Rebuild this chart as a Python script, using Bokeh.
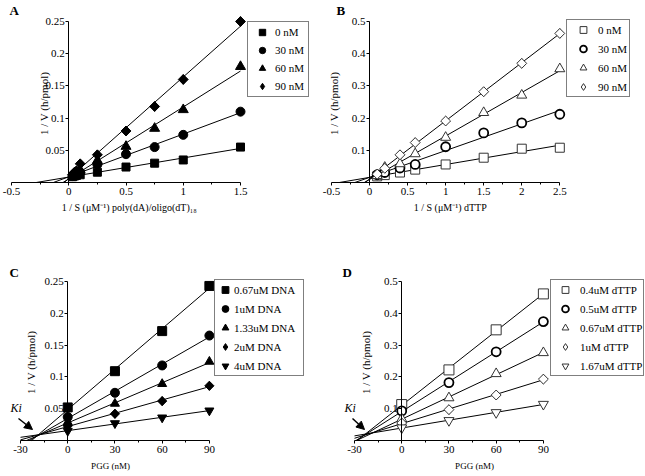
import numpy as np
from bokeh.plotting import figure
from bokeh.layouts import row, column
from bokeh.models import (Range1d, FixedTicker, CustomJSTickFormatter, Legend,
                          LegendItem, Label, Arrow, NormalHead)
from bokeh.embed import file_html
from bokeh.resources import INLINE

FONT = "Liberation Serif"

# ---------------- data ----------------
# Panel A : 1/S poly(dA)/oligo(dT)18
a_x = [0.033, 0.05, 0.067, 0.1, 0.25, 0.5, 0.75, 1.0, 1.5]
a_labels = ["0 nM", "30 nM", "60 nM", "90 nM"]
a_0 = [0.009, 0.010, 0.011, 0.012, 0.016, 0.024, 0.030, 0.035, 0.055]
a_30 = [0.010, 0.012, 0.013, 0.016, 0.028, 0.044, 0.055, 0.074, 0.110]
a_60 = [0.011, 0.013, 0.015, 0.019, 0.034, 0.056, 0.084, 0.113, 0.180]
a_90 = [0.012, 0.016, 0.018, 0.029, 0.043, 0.080, 0.118, 0.160, 0.250]
a_xticks = [-0.5, 0, 0.5, 1, 1.5]
a_yticks = [0.05, 0.1, 0.15, 0.2, 0.25]

# Panel B : 1/S dTTP
b_x = [0.1, 0.2, 0.4, 0.6, 1.0, 1.5, 2.0, 2.5]
b_labels = ["0 nM", "30 nM", "60 nM", "90 nM"]
b_0 = [0.019, 0.023, 0.031, 0.040, 0.056, 0.077, 0.105, 0.108]
b_30 = [0.024, 0.031, 0.045, 0.056, 0.111, 0.154, 0.185, 0.212]
b_60 = [0.021, 0.047, 0.058, 0.089, 0.140, 0.217, 0.271, 0.353]
b_90 = [0.026, 0.044, 0.086, 0.124, 0.191, 0.282, 0.370, 0.463]
b_xticks = [-0.5, 0, 0.5, 1, 1.5, 2, 2.5]
b_yticks = [0.1, 0.2, 0.3, 0.4, 0.5]

# Panel C : PGG (nM), DNA series
c_x = [0, 30, 60, 90]
c_labels = ["0.67uM DNA", "1uM DNA", "1.33uM DNA", "2uM DNA", "4uM DNA"]
c_067 = [0.052, 0.109, 0.172, 0.243]
c_1 = [0.037, 0.075, 0.118, 0.165]
c_133 = [0.029, 0.058, 0.089, 0.124]
c_2 = [0.023, 0.042, 0.062, 0.086]
c_4 = [0.015, 0.027, 0.036, 0.047]
c_xticks = [-30, 0, 30, 60, 90]
c_yticks = [0.05, 0.1, 0.15, 0.2, 0.25]

# Panel D : PGG (nM), dTTP series
d_x = [0, 30, 60, 90]
d_labels = ["0.4uM dTTP", "0.5uM dTTP", "0.67uM dTTP", "1uM dTTP", "1.67uM dTTP"]
d_04 = [0.113, 0.222, 0.348, 0.461]
d_05 = [0.093, 0.182, 0.279, 0.374]
d_067 = [0.068, 0.134, 0.210, 0.276]
d_1 = [0.055, 0.097, 0.143, 0.193]
d_167 = [0.040, 0.063, 0.088, 0.114]
d_xticks = [-30, 0, 30, 60, 90]
d_yticks = [0.1, 0.2, 0.3, 0.4, 0.5]

FMT = CustomJSTickFormatter(code="return tick.toString();")


class Panel:
    """Frame covers the whole figure; axes sit at x=0 / y=0 (fixed locations)."""

    def __init__(self, fig_w, fig_h, ax_px, ay_px, sx, sy, xticks, yticks, ylab_standoff):
        self.ax_px, self.ay_px, self.sx, self.sy = ax_px, ay_px, sx, sy
        self.xmin = xticks[0]
        x0 = xticks[0] - ax_px / sx
        p = figure(width=fig_w, height=fig_h, output_backend="svg", toolbar_location=None,
                   x_range=Range1d(x0, x0 + fig_w / sx),
                   y_range=Range1d(-(fig_h - ay_px) / sy, ay_px / sy),
                   min_border_left=0, min_border_right=0, min_border_top=0,
                   min_border_bottom=0)
        p.xgrid.visible = False
        p.ygrid.visible = False
        p.outline_line_color = None
        p.background_fill_color = "white"
        p.border_fill_color = "white"
        step = xticks[1] - xticks[0]
        xminor = [t + step / 2 for t in xticks[:-1]]
        p.xaxis.ticker = FixedTicker(ticks=xticks, minor_ticks=xminor)
        p.yaxis.ticker = FixedTicker(ticks=yticks, minor_ticks=[])
        p.xaxis.bounds = (xticks[0], xticks[-1])
        p.yaxis.bounds = (0, yticks[-1])
        p.yaxis.fixed_location = 0
        p.xaxis.fixed_location = 0
        p.yaxis.axis_label = "1 / V  (h/pmol)"
        for ax in p.xaxis + p.yaxis:
            ax.formatter = FMT
            ax.axis_line_color = "black"
            ax.major_tick_line_color = "black"
            ax.minor_tick_line_color = "black"
            ax.major_tick_out = 3
            ax.major_tick_in = 0
            ax.minor_tick_out = 2
            ax.minor_tick_in = 0
            ax.major_label_text_font = FONT
            ax.major_label_text_font_size = "11px"
            ax.major_label_text_color = "black"
            ax.axis_label_text_font = FONT
            ax.axis_label_text_font_size = "11px"
            ax.axis_label_text_font_style = "normal"
            ax.axis_label_text_color = "black"
            ax.major_label_standoff = 2
        for ax in p.yaxis:
            ax.major_label_standoff = 1
            ax.axis_label_standoff = ylab_standoff
        self.p = p

    # pixel (relative to figure top-left) -> data
    def dx(self, px):
        return self.xmin + (px - self.ax_px) / self.sx

    def dy(self, py):
        return (self.ay_px - py) / self.sy

    def xlabel(self, text, cpx, cpy, size):
        self.p.add_layout(Label(x=self.dx(cpx), y=self.dy(cpy), text=text, text_font=FONT,
                                text_font_size=size, text_align="center",
                                text_baseline="middle", text_color="black"))

    def series(self, xs, ys, marker, size, fill, line, lw=1.0, diamond=False):
        p = self.p
        m, b = np.polyfit(xs, ys, 1)
        x_start = max(-b / m, self.xmin)
        x_end = max(xs)
        p.line([x_start, x_end], [m * x_start + b, m * x_end + b],
               line_color="black", line_width=1)
        if diamond:
            # narrow diamond underneath (used for the legend key), square-diamond on top
            r = p.scatter(xs, ys, marker="diamond", size=size * 1.35, fill_color=fill,
                          line_color=line, line_width=lw)
            p.scatter(xs, ys, marker="square", size=size, fill_color=fill, line_color=line,
                      line_width=lw, angle=np.pi / 4)
            return r
        return p.scatter(xs, ys, marker=marker, size=size, fill_color=fill, line_color=line,
                         line_width=lw)

    def legend(self, renderers, labels, loc, padding, gw, gh, spacing, standoff, lw):
        items = [LegendItem(label=l, renderers=[r]) for l, r in zip(labels, renderers)]
        leg = Legend(items=items, location=loc, padding=padding, glyph_width=gw,
                     glyph_height=gh, label_height=gh, spacing=spacing,
                     label_standoff=standoff, label_width=lw, margin=0,
                     border_line_color="black", border_line_width=1,
                     background_fill_color="white", background_fill_alpha=1.0,
                     label_text_font=FONT, label_text_font_size="11px",
                     label_text_color="black")
        self.p.add_layout(leg)

    def letter(self, px, py, t):
        self.p.add_layout(Label(x=self.dx(px), y=self.dy(py), text=t, text_font=FONT,
                                text_font_style="bold", text_font_size="13px",
                                text_align="left", text_baseline="top", text_color="black"))

    def ki(self, tpx, tpy, spx, spy, epx, epy):
        self.p.add_layout(Label(x=self.dx(tpx), y=self.dy(tpy), text="Ki", text_font=FONT,
                                text_font_style="italic", text_font_size="12px",
                                text_align="left", text_baseline="middle",
                                text_color="black"))
        self.p.add_layout(Arrow(end=NormalHead(size=8, fill_color="black", line_color="black"),
                                x_start=self.dx(spx), y_start=self.dy(spy),
                                x_end=self.dx(epx), y_end=self.dy(epy),
                                line_color="black", line_width=1.5))


# legend location tuples are (left, bottom) in px from the frame's bottom-left (= figure)
# ---------------- Panel A ----------------
A = Panel(320, 238, 11, 182, 114.5, 644.0, a_xticks, a_yticks, -8)
rA = [
    A.series(a_x, a_0, "square", 8, "black", "black"),
    A.series(a_x, a_30, "circle", 9, "black", "black"),
    A.series(a_x, a_60, "triangle", 10, "black", "black"),
    A.series(a_x, a_90, None, 7, "black", "black", diamond=True),
]
A.legend(rA, a_labels, (247, 238 - 97), 2, 24, 16, 2, 1, 31)
A.letter(9, 2, "A")
A.xlabel("1 / S (\u03bcM\u207b\u00b9)  poly(dA)/oligo(dT)\u2081\u2088", 130, 207, "10px")

# ---------------- Panel B ----------------
B = Panel(325, 238, 11, 182, 76.1, 322.0, b_xticks, b_yticks, 9)
rB = [
    B.series(b_x, b_0, "square", 9, "white", "#333333"),
    B.series(b_x, b_30, "circle", 9, "white", "black", lw=1.8),
    B.series(b_x, b_60, "triangle", 10, "white", "#333333"),
    B.series(b_x, b_90, None, 7, "white", "#333333", diamond=True),
]
B.legend(rB, b_labels, (246, 238 - 97), 1, 30, 17, 2, 0, 30)
B.letter(16, 2, "B")
B.xlabel("1 / S (\u03bcM\u207b\u00b9)  dTTP", 131, 207, "10px")

# ---------------- Panel C ----------------
C = Panel(320, 238, 20, 202, 1.574, 636.0, c_xticks, c_yticks, 4)
rC = [
    C.series(c_x, c_067, "square", 9, "black", "black"),
    C.series(c_x, c_1, "circle", 9, "black", "black"),
    C.series(c_x, c_133, "triangle", 9, "black", "black"),
    C.series(c_x, c_2, None, 6.5, "black", "black", diamond=True),
    C.series(c_x, c_4, "inverted_triangle", 9, "black", "black"),
]
C.legend(rC, c_labels, (214, 238 - 138), 1, 18, 17, 2, 0, 68)
C.letter(9, 26, "C")
C.ki(10, 169, 18, 180, 32, 191)
C.xlabel("PGG (nM)", 110, 227, "9px")

# ---------------- Panel D ----------------
D = Panel(325, 238, 34, 202, 1.574, 318.0, d_xticks, d_yticks, 9)
rD = [
    D.series(d_x, d_04, "square", 10, "white", "#333333"),
    D.series(d_x, d_05, "circle", 9, "white", "black", lw=1.8),
    D.series(d_x, d_067, "triangle", 10, "white", "#333333"),
    D.series(d_x, d_1, None, 7, "white", "#333333", diamond=True),
    D.series(d_x, d_167, "inverted_triangle", 10, "white", "#333333"),
]
D.legend(rD, d_labels, (230, 238 - 138), 1, 26, 17, 2, 2, 62)
D.letter(22, 26, "D")
D.ki(24, 169, 32, 180, 44, 191)
D.xlabel("PGG (nM)", 154, 227, "9px")

layout = column(row(A.p, B.p), row(C.p, D.p))
open("out.html", "w").write(file_html(layout, INLINE))
